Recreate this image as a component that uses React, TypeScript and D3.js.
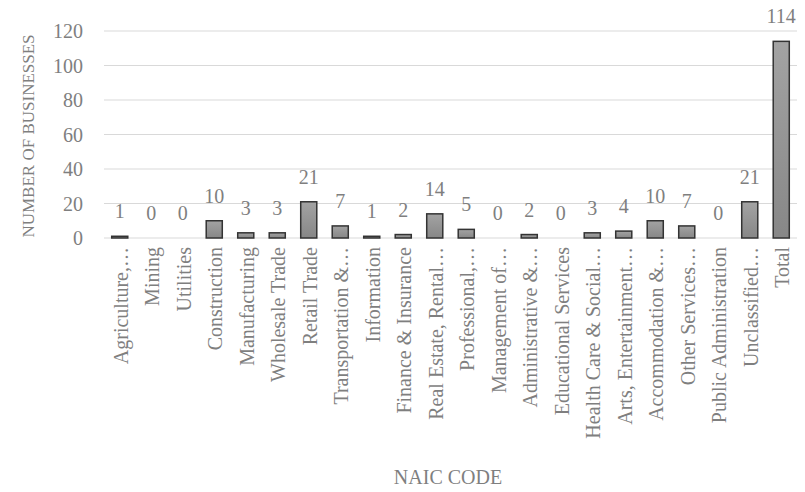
import React from "react";
import * as d3 from "d3";

const categories = [
  "Agriculture,…", "Mining", "Utilities", "Construction", "Manufacturing",
  "Wholesale Trade", "Retail Trade", "Transportation &…", "Information",
  "Finance & Insurance", "Real Estate, Rental…", "Professional,…",
  "Management of…", "Administrative &…", "Educational Services",
  "Health Care & Social…", "Arts, Entertainment…", "Accommodation &…",
  "Other Services…", "Public Administration", "Unclassified…", "Total",
];
const values = [1, 0, 0, 10, 3, 3, 21, 7, 1, 2, 14, 5, 0, 2, 0, 3, 4, 10, 7, 0, 21, 114];
const yTicks = [0, 20, 40, 60, 80, 100, 120];

const W = 805, H = 492;
const FONT = "'Liberation Serif', 'DejaVu Serif', serif";
const TXT = "#7f7f7f";

export default function App() {
  const x = d3.scaleBand<string>().domain(categories).range([104, 797]).paddingInner(0.49).paddingOuter(0.245);
  const y = d3.scaleLinear().domain([0, 120]).range([238, 31]);
  return (
    <svg width={W} height={H} style={{ position: "absolute", left: 0, top: 0 }} fontFamily={FONT}>
      <defs>
        <linearGradient id="barg" x1="0" y1="0" x2="0" y2="1">
          <stop offset="0" stopColor="#a3a3a3" />
          <stop offset="1" stopColor="#878787" />
        </linearGradient>
      </defs>
      <rect width={W} height={H} fill="#fff" />
      {yTicks.map((t) => (
        <g key={t}>
          <line x1={104} x2={797} y1={y(t)} y2={y(t)} stroke="#d9d9d9" strokeWidth={1} />
          <text x={83} y={y(t)} dy="0.35em" textAnchor="end" fontSize={20} fill={TXT}>{t}</text>
        </g>
      ))}
      {categories.map((c, i) => {
        const v = values[i];
        const bx = x(c)!;
        const bw = x.bandwidth();
        const cx = bx + bw / 2;
        return (
          <g key={c}>
            {v > 0 && (
              <rect x={bx} y={y(v)} width={bw} height={y(0) - y(v)} fill="url(#barg)" stroke="#333" strokeWidth={1.5} />
            )}
            <text x={cx} y={y(v) - 18} textAnchor="middle" fontSize={20} fill={TXT}>{v}</text>
            <text transform={`translate(${cx},247) rotate(-90)`} dy="0.4em" textAnchor="end" fontSize={20} fill={TXT}>{c}</text>
          </g>
        );
      })}
      <text transform={`translate(34,136) rotate(-90)`} textAnchor="middle" fontSize={17} fill={TXT}>NUMBER OF BUSINESSES</text>
      <text x={448} y={484} textAnchor="middle" fontSize={20} fill={TXT}>NAIC CODE</text>
    </svg>
  );
}
